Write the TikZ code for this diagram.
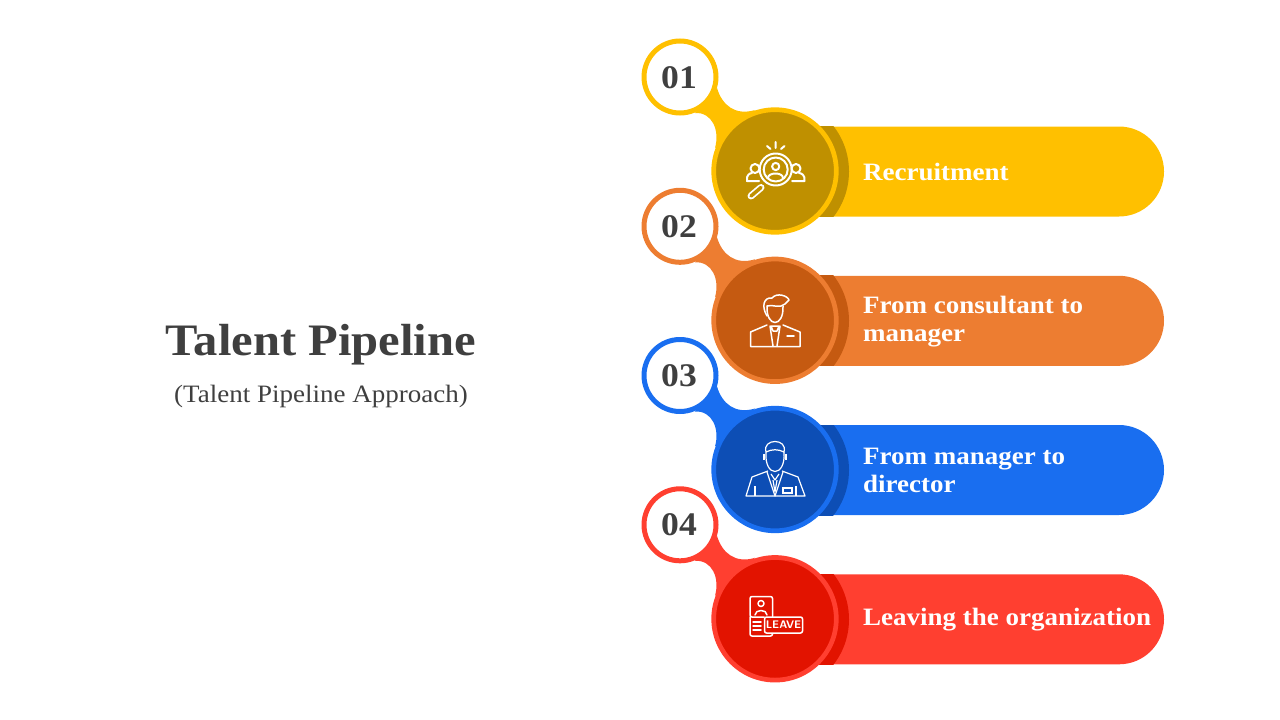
\documentclass[tikz,border=0pt]{standalone}
\usepackage{fontspec}
\setmainfont{Liberation Serif}[FakeStretch=1.08]
\usetikzlibrary{calc}
\definecolor{goldmain}{HTML}{FFC000}
\definecolor{golddark}{HTML}{BF9000}
\definecolor{orangemain}{HTML}{ED7D31}
\definecolor{orangedark}{HTML}{C55A11}
\definecolor{bluemain}{HTML}{196EF0}
\definecolor{bluedark}{HTML}{0D4EB5}
\definecolor{redmain}{HTML}{FF3F30}
\definecolor{reddark}{HTML}{E21300}
\definecolor{inktext}{HTML}{3F3F3F}
\tikzset{
  band/.style={minimum width=389pt,minimum height=90pt,rounded corners=45pt,inner sep=0pt},
  disc/.style={circle,minimum size=122.6pt,inner sep=0pt,line width=4.7pt},
  numring/.style={circle,minimum size=72pt,inner sep=0pt,line width=5pt,fill=white,text=inktext,font=\bfseries\fontsize{33}{33}\selectfont},
  steplabel/.style={anchor=west,align=left,text=white,inner sep=0pt,font=\bfseries\fontsize{25}{28}\selectfont},
  icon/.style={draw=white,line width=2pt,line join=round,line cap=round},
  iconthin/.style={draw=white,line width=1.5pt,line join=round,line cap=round}
}
\begin{document}
\begin{tikzpicture}[x=1pt,y=-1pt]
\useasboundingbox (0,0) rectangle (1280,720);
\node (title) at (321,345) [text=inktext,font=\bfseries\fontsize{45}{45}\selectfont] {Talent Pipeline};
\node (subtitle) at (321,396) [text=inktext,font=\fontsize{25}{25}\selectfont] {(Talent Pipeline Approach)};
\foreach \i/\y/\main/\dark/\tx in {1/171.5/goldmain/golddark/{Recruitment},
  2/320.8/orangemain/orangedark/{From consultant to\\manager},
  3/470/bluemain/bluedark/{From manager to\\director},
  4/619.3/redmain/reddark/{Leaving the organization}} {
\node (band\i) at (969.5,\y) [band,fill=\main] {};
\begin{scope}
\clip (775,\y-45) rectangle (900,\y+45);
\fill[\dark] (775,\y) circle (74);
\end{scope}
\coordinate (hub\i) at (775,\y-0.5);
\begin{scope}[shift={(hub\i)}]
\fill[\main] (-58,-83) .. controls (-53,-66) and (-40,-55) .. (-20,-61) -- (-60,-23)
  .. controls (-55,-41) and (-63,-59) .. (-80,-58) -- cycle;
\end{scope}
\node (disc\i) at (hub\i) [disc,draw=\main,fill=\dark] {};
\node (num\i) at ($(disc\i)+(-95,-94)$) [numring,draw=\main,text height=22pt,text depth=0pt] {\hspace*{-2pt}0\i};
\node (label\i) at (863,\y+0.5) [steplabel] {\tx};
}
% recruitment
\draw[icon] (775.7,169.5) circle (16) (775.7,169.5) circle (12);
\draw[icon] (775.7,166.5) circle (3.6);
\draw[icon] (768,178) .. controls (768,172) and (783,172) .. (783,178);
\draw[icon] (775.7,142) -- (775.7,148) (767,146) -- (770.5,149) (784.5,146) -- (781,149);
\draw[white,line width=7pt,line cap=round] (761,187.5) -- (751,196);
\draw[golddark,line width=3.5pt,line cap=round] (761,187.5) -- (751,196);
\draw[icon] (755,168.5) circle (4.5) (796,168.5) circle (4.5);
\draw[icon] (759,181) -- (747,181) .. controls (746,175) and (750,173) .. (752,173);
\draw[icon] (792,181) -- (804.5,181) .. controls (805.5,175) and (801,173) .. (799,173);
% consultant
\draw[iconthin] (767,306) .. controls (766,328) and (784,328) .. (783,306);
\draw[iconthin] (767,316) .. controls (761,306) and (764,297) .. (772,298) .. controls (777,292) and (788,296) .. (789,300)
  .. controls (787,302) and (786,303) .. (785,304) .. controls (780,309) and (772,304) .. (767,306);
\draw[iconthin] (767,325) -- (750.5,332) -- (750.5,346.5) -- (800,346.5) -- (800,332) -- (783,325);
\draw[iconthin] (770,326) -- (773,346) (780,326) -- (777,346) (771,326) -- (779,326) -- (777,331) -- (773,331) -- cycle;
\draw[iconthin] (787,336) -- (794,336);
% manager
\begin{scope}[line width=1.2pt]
\draw[draw=white,line join=round] (766,452) .. controls (764,478) and (786,478) .. (784,452);
\draw[draw=white,line join=round] (766,452) .. controls (762,438) and (788,438) .. (784,452) .. controls (778,449) and (772,449) .. (766,452);
\draw[draw=white] (764,454) -- (764,460) (786,454) -- (786,460);
\draw[draw=white,line join=round] (768,471) -- (752,477) -- (746,496) -- (805,496) -- (798,477) -- (782,471);
\draw[draw=white,line join=round] (767,472) -- (775,496) -- (783,472) (771,474) -- (775,480) -- (779,474);
\draw[draw=white,line join=round] (773,480) -- (775,492) -- (777,480);
\draw[draw=white] (755,486) -- (755,496) (796,486) -- (796,496);
\draw[draw=white] (783,488) rectangle (792,493);
\end{scope}
% leave
\draw[iconthin,rounded corners=2pt] (764,617) -- (750,617) -- (750,596.5) -- (772.5,596.5) -- (772.5,616.5);
\draw[iconthin,rounded corners=2pt] (750,617) -- (750,636) -- (772.5,636) -- (772.5,633);
\node (leavebox) at (783.5,625) [draw=white,fill=reddark,line width=1.5pt,rounded corners=2pt,minimum width=38pt,minimum height=16pt,inner sep=0pt,text=white,font=\bfseries\sffamily\fontsize{11}{11}\selectfont] {LEAVE};
\draw[iconthin] (761,603.5) circle (3);
\draw[iconthin] (755,615) .. controls (755,609) and (767,609) .. (767,615);
\draw[iconthin] (753,622) -- (761,622) (753,626) -- (761,626) (753,630) -- (761,630);
\end{tikzpicture}
\end{document}
